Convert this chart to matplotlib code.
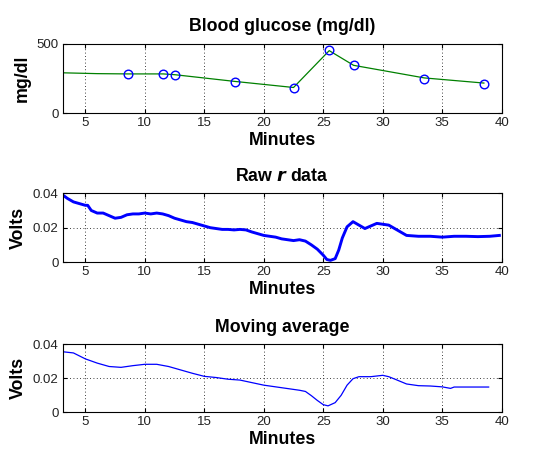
import matplotlib
matplotlib.use("Agg")
import matplotlib.pyplot as plt

plt.rcParams["font.family"] = ["Liberation Sans", "DejaVu Sans"]

# blood glucose samples (minutes, mg/dl)
gluc_t = [8.55, 11.55, 12.55, 17.55, 22.5, 25.5, 27.55, 33.5, 38.5]
gluc_v = [283, 283, 274, 226, 180, 457, 348, 250, 214]

# green trace through the samples
gluc_line_t = [3.1, 6.0, 8.55, 11.55, 12.55, 17.55, 22.5, 25.5, 27.55, 33.5, 38.5]
gluc_line_v = [292, 286, 284, 284, 278, 230, 186, 452, 346, 255, 218]

# raw r data (centre of the noisy band)
raw_t = [3.1, 3.5, 4, 4.5, 5, 5.2, 5.5, 6, 6.5, 7, 7.5, 8, 8.5, 9, 9.5, 10,
         10.5, 11, 11.5, 12, 12.5, 13, 13.5, 14, 14.5, 15, 15.5, 16, 16.5,
         17, 17.5, 18, 18.5, 19, 19.5, 20, 20.5, 21, 21.5, 22, 22.5, 23,
         23.5, 24, 24.5, 25, 25.3, 25.6, 26, 26.3, 26.6, 27, 27.5, 28, 28.5,
         29, 29.5, 30, 30.5, 31, 31.5, 32, 33, 34, 35, 36, 37, 38, 39, 39.8]
raw_v = [0.039, 0.037, 0.035, 0.034, 0.033, 0.033, 0.030, 0.0285, 0.0285,
         0.027, 0.0255, 0.026, 0.0275, 0.028, 0.028, 0.0285, 0.028, 0.0285,
         0.028, 0.027, 0.0255, 0.0245, 0.0235, 0.023, 0.022, 0.021, 0.020,
         0.0195, 0.019, 0.019, 0.0187, 0.019, 0.0187, 0.0175, 0.0165,
         0.0155, 0.015, 0.0145, 0.0135, 0.013, 0.0125, 0.013, 0.0122, 0.010,
         0.0075, 0.004, 0.0015, 0.001, 0.002, 0.007, 0.014, 0.0205, 0.0235,
         0.0215, 0.0195, 0.021, 0.0225, 0.022, 0.0215, 0.0195, 0.0175,
         0.0155, 0.015, 0.015, 0.0145, 0.015, 0.015, 0.0148, 0.015, 0.0155]

# moving average of r
avg_t = [3.1, 4, 5, 6, 7, 8, 9, 10, 11, 12, 13, 14, 15, 16, 17, 18, 19, 20,
         21, 22, 23, 23.5, 24, 24.5, 25, 25.4, 26, 26.5, 27, 27.5, 28, 29,
         30, 30.5, 31, 32, 33, 34, 35, 35.7, 36, 37, 38, 38.9]
avg_v = [0.0357, 0.035, 0.0315, 0.029, 0.027, 0.0265, 0.0275, 0.0283,
         0.0283, 0.027, 0.025, 0.023, 0.0212, 0.0205, 0.0195, 0.019, 0.0175,
         0.016, 0.015, 0.014, 0.013, 0.0123, 0.0098, 0.007, 0.0045, 0.0038,
         0.0057, 0.010, 0.016, 0.0198, 0.021, 0.021, 0.0218, 0.021, 0.0196,
         0.0167, 0.0157, 0.0155, 0.015, 0.0141, 0.0149, 0.0149, 0.0149,
         0.0149]

x_ticks = [5, 10, 15, 20, 25, 30, 35, 40]

fig = plt.figure(figsize=(5.43, 4.68), dpi=100)
ax1 = fig.add_axes([0.1155, 0.758, 0.8085, 0.148])
ax2 = fig.add_axes([0.1155, 0.440, 0.8085, 0.147])
ax3 = fig.add_axes([0.1155, 0.119, 0.8085, 0.145])

ax1.plot(gluc_line_t, gluc_line_v, color="#008000", lw=0.9)
ax1.plot(gluc_t, gluc_v, "o", mfc="none", mec="blue", ms=6.2, mew=1.0,
         clip_on=False, zorder=5)
ax1.set_ylim(0, 500)
ax1.set_yticks([0, 500])
ax1.set_title("Blood glucose (mg/dl)", fontsize=12.8, fontweight="bold", pad=9)
ax1.set_ylabel("mg/dl", fontsize=12.8, fontweight="bold")

ax2.plot(raw_t, raw_v, color="blue", lw=2.1)
ax2.set_ylim(0, 0.04)
ax2.set_yticks([0, 0.02, 0.04])
ax2.set_yticklabels(["0", "0.02", "0.04"])
ax2.set_title("Raw $\\boldsymbol{r}$ data", fontsize=12.8, fontweight="bold", pad=9)
ax2.set_ylabel("Volts", fontsize=12.8, fontweight="bold")

ax3.plot(avg_t, avg_v, color="blue", lw=0.9)
ax3.set_ylim(0, 0.04)
ax3.set_yticks([0, 0.02, 0.04])
ax3.set_yticklabels(["0", "0.02", "0.04"])
ax3.set_title("Moving average", fontsize=12.8, fontweight="bold", pad=9)
ax3.set_ylabel("Volts", fontsize=12.8, fontweight="bold")

for ax in (ax1, ax2, ax3):
    ax.set_xlim(3.1, 40)
    ax.set_xticks(x_ticks)
    ax.set_xlabel("Minutes", fontsize=12.8, fontweight="bold", labelpad=2)
    ax.grid(True, color="black", linestyle=(0, (1, 3)), linewidth=0.6)
    ax.tick_params(direction="in", top=True, right=True, length=3,
                   labelsize=9.5, labelcolor="#222222", pad=3)
    for s in ax.spines.values():
        s.set_linewidth(0.8)

fig.savefig("out.png", dpi=100)
